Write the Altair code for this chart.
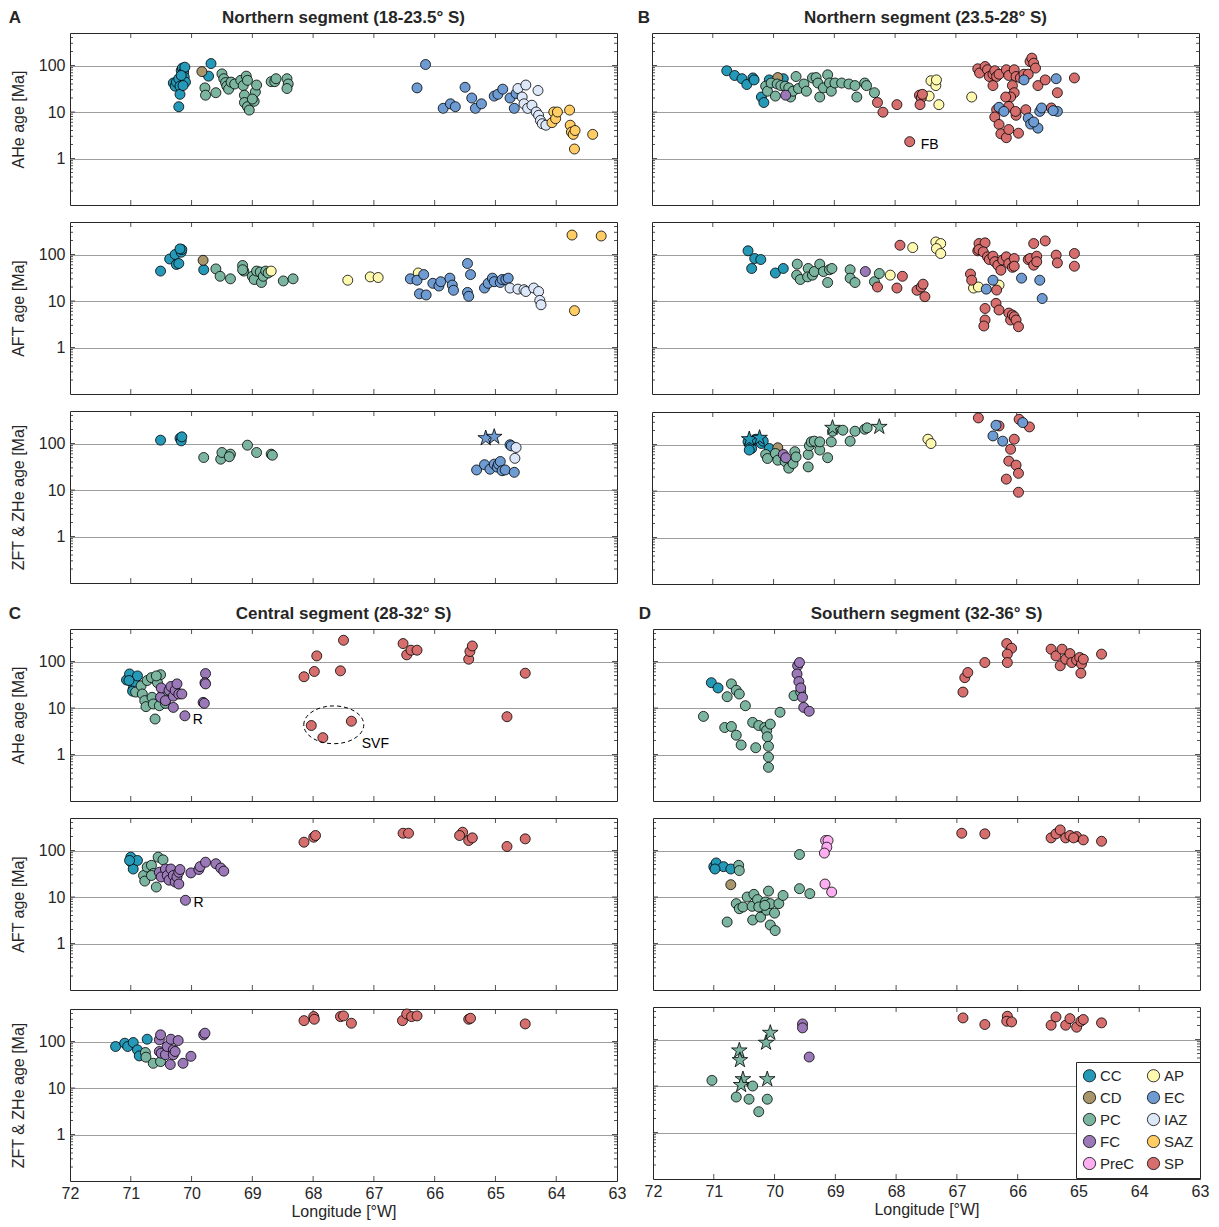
import altair as alt
import pandas as pd

FONT = "Liberation Sans"
INK = "#262626"

# ---- unit colours (legend fills column by column) ----
UNITS = ["CC", "CD", "PC", "FC", "PreC", "AP", "EC", "IAZ", "SAZ", "SP"]
UNIT_COLORS = ["#2599b8", "#a8956c", "#7bb5a0", "#9b79b8", "#fdaef0",
               "#fff9b0", "#6e9bd2", "#dce8fa", "#ffcd64", "#d76e6e"]
DRAW_ORDER = ["CC", "CD", "PC", "FC", "PreC", "AP", "SP", "EC", "IAZ", "SAZ"]

# ---- (longitude °W, age Ma) per segment / method / unit ----
# A: Northern segment 18-23.5° S
A_AHE_CC = [(70.30, 42), (70.27, 36), (70.25, 44), (70.21, 52), (70.19, 36), (70.17, 78), (70.15, 88),
            (70.13, 72), (70.11, 92), (70.12, 56), (70.10, 44), (70.17, 61), (70.19, 24), (70.21, 13),
            (70.14, 37), (69.68, 110), (69.72, 59)]
A_AHE_CD = [(69.83, 74)]
A_AHE_PC = [(69.78, 33), (69.77, 23), (69.60, 26), (69.50, 66), (69.47, 52), (69.44, 43), (69.42, 36),
            (69.39, 31), (69.35, 44), (69.29, 40), (69.19, 48), (69.15, 37), (69.13, 23), (69.10, 59),
            (69.08, 48), (69.13, 16), (69.08, 13), (69.05, 11), (68.97, 17), (68.95, 27), (68.93, 38),
            (69.00, 19), (68.69, 45), (68.63, 45), (68.61, 52), (68.43, 52), (68.41, 40), (68.43, 32)]
A_AHE_EC = [(66.29, 33), (66.15, 105), (65.86, 12), (65.74, 15), (65.66, 13), (65.50, 34), (65.39, 20),
            (65.33, 12), (65.23, 15), (65.02, 22), (64.96, 24), (64.88, 31), (64.76, 20), (64.69, 12),
            (64.66, 25)]
A_AHE_IAZ = [(64.63, 32), (64.56, 21), (64.53, 15), (64.50, 38), (64.47, 12), (64.40, 14), (64.33, 10),
             (64.30, 29), (64.29, 8.5), (64.26, 6.6), (64.23, 5.6), (64.17, 5.2)]
A_AHE_SAZ = [(64.07, 5.9), (64.04, 10), (64.01, 7.2), (63.98, 10), (63.78, 11), (63.77, 5.2), (63.75, 3.7),
             (63.72, 3.3), (63.69, 4.0), (63.70, 1.6), (63.40, 3.3)]

A_AFT_CC = [(70.51, 44), (70.36, 80), (70.27, 100), (70.25, 61), (70.21, 64), (70.17, 112), (70.16, 128),
            (70.19, 132), (69.80, 47)]
A_AFT_CD = [(69.81, 75)]
A_AFT_PC = [(69.60, 49), (69.53, 34), (69.36, 30), (69.16, 58), (69.14, 44), (69.16, 47), (69.00, 34),
            (68.97, 29), (68.93, 44), (68.87, 42), (68.85, 25), (68.82, 34), (68.78, 44), (68.74, 40),
            (68.49, 27), (68.33, 30)]
A_AFT_AP = [(68.69, 44), (67.43, 28), (67.06, 33), (66.93, 32), (66.27, 40)]
A_AFT_EC = [(66.40, 30), (66.29, 28), (66.25, 14.3), (66.14, 13.5), (66.18, 37), (66.03, 24), (65.93, 21),
            (65.90, 26), (65.75, 31), (65.71, 22), (65.69, 17), (65.46, 64), (65.41, 37), (65.46, 15.3),
            (65.44, 12.6), (65.18, 19), (65.12, 24), (65.05, 31), (65.02, 26), (64.92, 25), (64.89, 29),
            (64.83, 29), (64.79, 31)]
A_AFT_IAZ = [(64.76, 19), (64.63, 18), (64.53, 17.5), (64.50, 16), (64.37, 19), (64.29, 16), (64.27, 10.3),
             (64.25, 8.3)]
A_AFT_SAZ = [(63.74, 262), (63.26, 250), (63.70, 6.2)]

A_ZFT_CC = [(70.51, 118), (70.19, 130), (70.17, 114), (70.16, 139)]
A_ZFT_PC = [(69.80, 50), (69.52, 46), (69.50, 64), (69.36, 59), (69.38, 52), (69.08, 92), (68.93, 64),
            (68.69, 59), (68.67, 56)]
A_ZFT_EC = [(65.31, 27), (65.18, 35), (65.09, 28), (65.02, 36), (64.97, 31), (64.95, 36), (64.92, 41),
            (64.89, 26), (64.84, 27), (64.69, 24), (64.76, 94), (64.74, 89)]
A_ZFT_EC_STAR = [(65.16, 130), (65.02, 139)]
A_ZFT_IAZ = [(64.66, 82), (64.68, 48)]

# B: Northern segment 23.5-28° S
B_AHE_CC = [(70.77, 77), (70.64, 61), (70.52, 52), (70.44, 39), (70.34, 54), (70.32, 49), (70.20, 21),
            (70.16, 16), (70.07, 49), (69.84, 52)]
B_AHE_CD = [(69.93, 55)]
B_AHE_FC = [(69.80, 23)]
B_AHE_PC = [(70.13, 36), (70.10, 28), (70.04, 42), (69.97, 22), (69.94, 40), (69.88, 37), (69.81, 36),
            (69.75, 33), (69.72, 21), (69.68, 28), (69.63, 58), (69.59, 32), (69.50, 40), (69.46, 28),
            (69.36, 54), (69.30, 55), (69.27, 42), (69.24, 21), (69.18, 33), (69.11, 63), (69.08, 42),
            (69.05, 28), (68.99, 42), (68.88, 42), (68.76, 40), (68.66, 37), (68.63, 21), (68.50, 42),
            (68.47, 37), (68.34, 26)]
B_AHE_AP = [(67.41, 47), (67.33, 37), (67.32, 49), (67.44, 22), (67.28, 14.4), (66.74, 21)]
B_AHE_SP = [(68.29, 16), (68.20, 9.9), (67.97, 14.4), (67.76, 2.3), (67.60, 23), (67.57, 20), (67.55, 24),
            (67.59, 14.4), (66.64, 85), (66.61, 69), (66.52, 95), (66.48, 81), (66.45, 58), (66.39, 65),
            (66.36, 77), (66.33, 58), (66.39, 37), (66.29, 65), (66.17, 81), (66.13, 61), (66.04, 81),
            (66.01, 58), (65.94, 54), (65.88, 65), (65.78, 122), (65.75, 144), (65.72, 112), (65.69, 88),
            (65.81, 65), (65.65, 37), (65.53, 49), (65.33, 26), (65.05, 54), (65.43, 12.2), (66.07, 37),
            (66.04, 26), (66.10, 21), (66.18, 21), (66.13, 13.2), (66.33, 11.2), (66.36, 7.8), (66.29, 5.4),
            (66.26, 3.4), (66.17, 2.8), (66.13, 4.2), (66.01, 8.5), (65.97, 3.5), (66.02, 10.3), (65.85, 11.2)]
B_AHE_EC = [(66.29, 12.6), (66.21, 10.3), (65.88, 49), (65.81, 7.4), (65.77, 5.5), (65.65, 4.5), (65.62, 10.3),
            (65.59, 12.2), (65.35, 52), (65.33, 10.3), (65.40, 10.7), (65.72, 6.1)]

B_AFT_CC = [(70.42, 120), (70.31, 82), (70.21, 78), (70.36, 50), (69.97, 40), (69.84, 50)]
B_AFT_PC = [(69.61, 62), (69.62, 36), (69.56, 29), (69.43, 50), (69.44, 33), (69.36, 36), (69.33, 43),
            (69.24, 62), (69.18, 43), (69.11, 25), (69.08, 47), (69.04, 50), (68.74, 47), (68.74, 31),
            (68.66, 25), (68.34, 26), (68.26, 39)]
B_AFT_FC = [(68.49, 43)]
B_AFT_AP = [(68.08, 36), (67.71, 141), (67.33, 186), (67.25, 172), (67.32, 134), (67.25, 105), (66.71, 19),
            (66.63, 20), (66.29, 22)]
B_AFT_SP = [(68.29, 20), (67.97, 19), (67.88, 34), (67.92, 158), (67.64, 17), (67.57, 20), (67.54, 23),
            (67.51, 12.4), (66.76, 38), (66.74, 28), (66.64, 120), (66.62, 172), (66.52, 178), (66.62, 128),
            (66.55, 114), (66.48, 89), (66.45, 78), (66.39, 92), (66.36, 70), (66.31, 59), (66.26, 46),
            (66.23, 76), (66.17, 89), (66.13, 64), (66.07, 53), (66.04, 82), (66.04, 56), (66.52, 6.9),
            (66.52, 3.9), (66.54, 2.9), (66.34, 8.9), (66.29, 6.4), (66.33, 17.2), (66.13, 5.5), (66.10, 3.9),
            (66.07, 5.0), (66.04, 4.6), (66.01, 3.9), (65.97, 2.8), (65.81, 78), (65.78, 82), (65.72, 172),
            (65.72, 59), (65.67, 92), (65.67, 70), (65.53, 196), (65.35, 97), (65.33, 66), (65.05, 105),
            (65.05, 56)]
B_AFT_EC = [(66.50, 18), (66.39, 28), (65.92, 31), (65.62, 28), (65.58, 11.3)]

B_ZFT_CC = [(70.42, 114), (70.39, 97), (70.36, 82), (70.29, 130), (70.20, 105), (70.17, 118), (70.07, 82),
            (70.40, 76)]
B_ZFT_CC_STAR = [(70.40, 130), (70.23, 139)]
B_ZFT_CD = [(69.93, 85)]
B_ZFT_PC = [(70.13, 61), (70.10, 50), (69.97, 64), (69.93, 46), (69.81, 43), (69.75, 31), (69.68, 39),
            (69.65, 70), (69.63, 54), (69.43, 33), (69.43, 61), (69.41, 94), (69.38, 114), (69.33, 118),
            (69.24, 76), (69.24, 114), (69.11, 52), (69.05, 114), (69.03, 193), (68.86, 203), (68.74, 118),
            (68.66, 193), (68.50, 213), (68.46, 228)]
B_ZFT_PC_STAR = [(69.03, 228), (68.26, 239)]
B_ZFT_FC = [(69.84, 61), (69.80, 52)]
B_ZFT_AP = [(67.46, 130), (67.41, 105)]
B_ZFT_SP = [(66.63, 373), (66.29, 251), (66.04, 130), (66.10, 79), (66.13, 44), (66.01, 36), (65.97, 24),
            (66.17, 18), (65.97, 9.4), (65.96, 348), (65.79, 239)]
B_ZFT_EC = [(66.34, 259), (66.39, 153), (66.23, 118), (65.90, 296)]

# C: Central segment 28-32° S
C_AHE_CC = [(71.07, 40), (71.02, 54), (70.99, 37), (70.96, 26), (70.92, 34), (70.97, 23), (70.89, 49),
            (71.03, 39)]
C_AHE_PC = [(70.92, 22), (70.83, 30), (70.81, 20), (70.77, 14.4), (70.75, 10.7), (70.73, 39), (70.66, 45),
            (70.65, 17), (70.63, 12.2), (70.60, 5.8), (70.56, 35), (70.51, 52), (70.50, 17), (70.53, 11.2),
            (70.47, 20), (70.43, 12.6), (70.58, 49)]
C_AHE_FC = [(70.51, 17), (70.50, 27), (70.43, 14.4), (70.37, 24), (70.34, 29), (70.30, 10.3), (70.30, 18),
            (70.27, 24), (70.24, 33), (70.21, 20), (70.16, 20), (70.11, 6.8), (69.81, 13.2), (69.79, 12.6),
            (69.77, 55), (69.78, 35), (69.77, 33)]
C_AHE_SP = [(68.15, 47), (67.98, 61), (67.94, 132), (67.55, 63), (67.50, 286), (66.52, 243), (66.46, 139),
            (66.39, 175), (66.29, 175), (65.44, 112), (65.42, 164), (65.38, 216), (64.51, 56), (64.81, 6.5),
            (68.03, 4.2), (67.84, 2.3), (67.37, 5.2)]

C_AFT_CC = [(71.00, 72), (70.99, 56), (70.96, 40), (70.89, 61), (71.02, 61)]
C_AFT_PC = [(70.79, 29), (70.77, 22), (70.73, 44), (70.66, 48), (70.63, 32), (70.58, 16.4), (70.55, 72),
            (70.47, 63), (70.66, 29)]
C_AFT_FC = [(70.53, 34), (70.50, 27), (70.43, 40), (70.40, 29), (70.37, 23), (70.34, 40), (70.30, 29),
            (70.27, 21), (70.24, 27), (70.21, 34), (70.21, 19), (70.19, 39), (70.10, 8.5), (70.01, 33),
            (69.88, 39), (69.86, 45), (69.77, 56), (69.60, 52), (69.52, 42), (69.47, 36)]
C_AFT_SP = [(68.15, 151), (67.99, 193), (67.96, 210), (66.52, 235), (66.43, 235), (65.54, 247), (65.59, 210),
            (65.44, 164), (65.38, 187), (64.81, 122), (64.51, 178)]

C_ZFT_CC = [(71.25, 78), (71.10, 92), (71.05, 78), (70.96, 95), (70.89, 66), (70.86, 49), (70.73, 112)]
C_ZFT_PC = [(70.76, 58), (70.75, 46), (70.63, 34), (70.51, 37)]
C_ZFT_FC = [(70.53, 109), (70.51, 139), (70.53, 61), (70.50, 56), (70.43, 52), (70.40, 78), (70.34, 112),
            (70.35, 32), (70.30, 66), (70.30, 52), (70.22, 105), (70.27, 61), (70.14, 34), (70.01, 48),
            (69.80, 139), (69.78, 151)]
C_ZFT_SP = [(68.15, 281), (67.99, 343), (67.98, 301), (67.55, 343), (67.50, 355), (67.37, 247), (66.53, 281),
            (66.46, 391), (66.38, 343), (66.29, 355), (65.44, 301), (65.41, 316), (64.51, 239)]

# D: Southern segment 32-36° S
D_AHE_CC = [(71.04, 35), (70.93, 27)]
D_AHE_PC = [(71.17, 6.6), (70.78, 17.5), (70.71, 33), (70.63, 24), (70.58, 20), (70.48, 11.2), (70.82, 3.8),
            (70.71, 4.0), (70.63, 2.6), (70.55, 1.6), (70.36, 4.9), (70.31, 1.4), (70.26, 4.2), (70.16, 3.8),
            (70.13, 3.3), (70.12, 2.4), (70.10, 1.5), (70.10, 0.88), (70.10, 0.53), (70.07, 4.5), (69.91, 8.1),
            (69.68, 18.4), (69.57, 22)]
D_AHE_FC = [(69.62, 81), (69.63, 54), (69.60, 37), (69.57, 27), (69.54, 17), (69.52, 10.3), (69.43, 8.5),
            (69.59, 95)]
D_AHE_SP = [(66.90, 22), (66.87, 45), (66.82, 58), (66.54, 95), (66.18, 243), (66.10, 193), (66.17, 144),
            (66.17, 95), (65.45, 184), (65.37, 132), (65.27, 184), (65.30, 81), (65.21, 112), (65.14, 148),
            (65.11, 95), (65.03, 107), (64.98, 122), (64.95, 88), (64.96, 56), (64.92, 112), (64.62, 144)]

D_AFT_CC = [(71.00, 45), (70.96, 54), (70.84, 45), (70.72, 40), (70.98, 40)]
D_AFT_CD = [(70.72, 18.4)]
D_AFT_PC = [(70.59, 48), (70.58, 37), (70.78, 2.9), (70.63, 7.2), (70.58, 5.6), (70.52, 6.1), (70.45, 10),
            (70.37, 6.3), (70.34, 11.4), (70.36, 3.2), (70.28, 8.8), (70.23, 3.7), (70.20, 6.1), (70.15, 7.8),
            (70.13, 5.2), (70.10, 13.4), (70.07, 7.2), (70.07, 2.5), (70.00, 4.5), (69.99, 1.9), (69.93, 7.2),
            (69.86, 10.8), (69.59, 82), (69.59, 15.1), (69.42, 11.8), (70.26, 6.1), (70.16, 6.6)]
D_AFT_PREC = [(69.16, 164), (69.12, 164), (69.14, 118), (69.18, 88), (69.17, 19), (69.06, 12.8)]
D_AFT_SP = [(66.92, 235), (66.54, 228), (65.45, 187), (65.37, 228), (65.30, 277), (65.21, 187), (65.14, 210),
            (65.03, 199), (64.92, 169), (64.62, 158), (65.08, 187)]

D_ZFT_PC = [(71.03, 13.2), (70.63, 5.8), (70.42, 5.2), (70.36, 10), (70.26, 2.8), (70.12, 5.2)]
D_ZFT_PC_STAR = [(70.58, 58), (70.57, 36), (70.52, 14), (70.55, 10.5), (70.12, 14), (70.14, 85), (70.07, 139)]
D_ZFT_FC = [(69.54, 216), (69.54, 178), (69.43, 42)]
D_ZFT_SP = [(66.90, 291), (66.54, 210), (66.17, 316), (66.18, 247), (66.10, 239), (65.45, 203), (65.37, 306),
            (65.21, 203), (65.14, 281), (65.03, 184), (64.96, 247), (64.92, 269), (64.62, 228)]

SERIES = [
    ("A", "AHe", "CC", "circle", A_AHE_CC), ("A", "AHe", "CD", "circle", A_AHE_CD),
    ("A", "AHe", "PC", "circle", A_AHE_PC), ("A", "AHe", "EC", "circle", A_AHE_EC),
    ("A", "AHe", "IAZ", "circle", A_AHE_IAZ), ("A", "AHe", "SAZ", "circle", A_AHE_SAZ),
    ("A", "AFT", "CC", "circle", A_AFT_CC), ("A", "AFT", "CD", "circle", A_AFT_CD),
    ("A", "AFT", "PC", "circle", A_AFT_PC), ("A", "AFT", "AP", "circle", A_AFT_AP),
    ("A", "AFT", "EC", "circle", A_AFT_EC), ("A", "AFT", "IAZ", "circle", A_AFT_IAZ),
    ("A", "AFT", "SAZ", "circle", A_AFT_SAZ),
    ("A", "ZFT", "CC", "circle", A_ZFT_CC), ("A", "ZFT", "PC", "circle", A_ZFT_PC),
    ("A", "ZFT", "EC", "circle", A_ZFT_EC), ("A", "ZFT", "EC", "star", A_ZFT_EC_STAR),
    ("A", "ZFT", "IAZ", "circle", A_ZFT_IAZ),
    ("B", "AHe", "CC", "circle", B_AHE_CC), ("B", "AHe", "CD", "circle", B_AHE_CD),
    ("B", "AHe", "PC", "circle", B_AHE_PC), ("B", "AHe", "FC", "circle", B_AHE_FC),
    ("B", "AHe", "AP", "circle", B_AHE_AP), ("B", "AHe", "SP", "circle", B_AHE_SP),
    ("B", "AHe", "EC", "circle", B_AHE_EC),
    ("B", "AFT", "CC", "circle", B_AFT_CC), ("B", "AFT", "PC", "circle", B_AFT_PC),
    ("B", "AFT", "FC", "circle", B_AFT_FC), ("B", "AFT", "AP", "circle", B_AFT_AP),
    ("B", "AFT", "SP", "circle", B_AFT_SP), ("B", "AFT", "EC", "circle", B_AFT_EC),
    ("B", "ZFT", "CC", "circle", B_ZFT_CC), ("B", "ZFT", "CC", "star", B_ZFT_CC_STAR),
    ("B", "ZFT", "CD", "circle", B_ZFT_CD), ("B", "ZFT", "PC", "circle", B_ZFT_PC),
    ("B", "ZFT", "PC", "star", B_ZFT_PC_STAR), ("B", "ZFT", "FC", "circle", B_ZFT_FC),
    ("B", "ZFT", "AP", "circle", B_ZFT_AP), ("B", "ZFT", "SP", "circle", B_ZFT_SP),
    ("B", "ZFT", "EC", "circle", B_ZFT_EC),
    ("C", "AHe", "CC", "circle", C_AHE_CC), ("C", "AHe", "PC", "circle", C_AHE_PC),
    ("C", "AHe", "FC", "circle", C_AHE_FC), ("C", "AHe", "SP", "circle", C_AHE_SP),
    ("C", "AFT", "CC", "circle", C_AFT_CC), ("C", "AFT", "PC", "circle", C_AFT_PC),
    ("C", "AFT", "FC", "circle", C_AFT_FC), ("C", "AFT", "SP", "circle", C_AFT_SP),
    ("C", "ZFT", "CC", "circle", C_ZFT_CC), ("C", "ZFT", "PC", "circle", C_ZFT_PC),
    ("C", "ZFT", "FC", "circle", C_ZFT_FC), ("C", "ZFT", "SP", "circle", C_ZFT_SP),
    ("D", "AHe", "CC", "circle", D_AHE_CC), ("D", "AHe", "PC", "circle", D_AHE_PC),
    ("D", "AHe", "FC", "circle", D_AHE_FC), ("D", "AHe", "SP", "circle", D_AHE_SP),
    ("D", "AFT", "CC", "circle", D_AFT_CC), ("D", "AFT", "CD", "circle", D_AFT_CD),
    ("D", "AFT", "PC", "circle", D_AFT_PC), ("D", "AFT", "PreC", "circle", D_AFT_PREC),
    ("D", "AFT", "SP", "circle", D_AFT_SP),
    ("D", "ZFT", "PC", "circle", D_ZFT_PC), ("D", "ZFT", "PC", "star", D_ZFT_PC_STAR),
    ("D", "ZFT", "FC", "circle", D_ZFT_FC), ("D", "ZFT", "SP", "circle", D_ZFT_SP),
]

TITLES = {
    "A": "Northern segment (18-23.5° S)",
    "B": "Northern segment (23.5-28° S)",
    "C": "Central segment (28-32° S)",
    "D": "Southern segment (32-36° S)",
}
Y_TITLES = {"AHe": "AHe age [Ma]", "AFT": "AFT age [Ma]", "ZFT": "ZFT & ZHe age [Ma]"}

# point annotations: (segment, method, lon, age, text)
LABELS = [
    ("B", "AHe", 67.58, 1.95, "FB"),
    ("C", "AHe", 69.98, 5.6, "R"),
    ("C", "AHe", 67.20, 1.65, "SVF"),
    ("C", "AFT", 69.97, 7.5, "R"),
]
# dashed outline round the SVF samples: (segment, method, lon, age)
ELLIPSES = [("C", "AHe", 67.66, 4.35)]

GRID_AGES = [1, 10, 100]
MINOR_AGES = [0.2, 0.3, 0.4, 0.5, 0.6, 0.7, 0.8, 0.9, 2, 3, 4, 5, 6, 7, 8, 9,
              20, 30, 40, 50, 60, 70, 80, 90, 200, 300, 400]
LON_TICKS = list(range(63, 73))

rows = []
for seg, meth, unit, marker, pts in SERIES:
    for lon, age in pts:
        rows.append({"seg": seg, "method": meth, "unit": unit, "marker": marker,
                     "lon": lon, "age": age, "order": DRAW_ORDER.index(unit)})
DF = pd.DataFrame(rows)

W, H = 547, 172
XS = alt.Scale(domain=[63, 72], reverse=True, nice=False)
YS = alt.Scale(type="log", domain=[0.1, 500], nice=False)
CS = alt.Scale(domain=UNITS, range=UNIT_COLORS)
STAR = ("M0,-1L0.2245,-0.309L0.9511,-0.309L0.3633,0.118L0.5878,0.809L0,0.382"
        "L-0.5878,0.809L-0.3633,0.118L-0.9511,-0.309L-0.2245,-0.309Z")
ELLIPSE = "M-1,0A1,0.63,0,1,1,1,0A1,0.63,0,1,1,-1,0Z"

LEGEND = alt.Legend(
    title=None, orient="none", legendX=1006, legendY=1029, columns=2,
    symbolType="circle", symbolSize=150, symbolStrokeColor="black", symbolStrokeWidth=0.8,
    symbolOpacity=1, labelFont=FONT, labelFontSize=15, labelColor=INK, labelOffset=3,
    columnPadding=10, rowPadding=5, padding=6, strokeColor=INK, fillColor="white",
)


def panel(seg, meth, left, bottom, top):
    sub = DF[(DF.seg == seg) & (DF.method == meth)].sort_values("order", kind="stable")
    if bottom:
        xax = alt.Axis(values=LON_TICKS, format="d", grid=False, ticks=False, domain=False,
                       labelFlush=False, labelPadding=4, title="Longitude [°W]", titlePadding=2,
                       titleFontWeight="normal")
    else:
        xax = None
    if left:
        yax = alt.Axis(values=GRID_AGES, format="d", grid=True, ticks=False, domain=False,
                       labelPadding=5, title=Y_TITLES[meth], titlePadding=12,
                       titleFontWeight="normal")
    else:
        yax = alt.Axis(values=GRID_AGES, grid=True, ticks=False, domain=False,
                       labels=False, title=None)
    ex = alt.X("lon:Q", scale=XS, axis=xax)
    ey = alt.Y("age:Q", scale=YS, axis=yax)
    color = alt.Color("unit:N", scale=CS, legend=LEGEND)

    layers = []
    # inward frame ticks on all four sides
    xt = alt.Chart(pd.DataFrame({"lon": LON_TICKS[1:-1]}))
    layers.append(xt.mark_rule(color=INK, strokeWidth=0.8).encode(x=ex, y=alt.value(H), y2=alt.value(H - 5)))
    layers.append(xt.mark_rule(color=INK, strokeWidth=0.8).encode(x=ex, y=alt.value(0), y2=alt.value(5)))
    for vals, ln in ((GRID_AGES, 5), (MINOR_AGES, 3)):
        yt = alt.Chart(pd.DataFrame({"age": vals}))
        layers.append(yt.mark_rule(color=INK, strokeWidth=0.8).encode(y=ey, x=alt.value(0), x2=alt.value(ln)))
        layers.append(yt.mark_rule(color=INK, strokeWidth=0.8).encode(y=ey, x=alt.value(W), x2=alt.value(W - ln)))

    circ = sub[sub.marker == "circle"]
    layers.append(alt.Chart(circ).mark_circle(size=100, stroke="black", strokeWidth=0.8, opacity=1)
                  .encode(x=ex, y=ey, color=color))
    stars = sub[sub.marker == "star"]
    if len(stars):
        layers.append(alt.Chart(stars).mark_point(shape=STAR, filled=True, size=270, stroke="black",
                                                  strokeWidth=0.8, opacity=1)
                      .encode(x=ex, y=ey, color=color))

    ell = [e for e in ELLIPSES if e[0] == seg and e[1] == meth]
    if ell:
        edf = pd.DataFrame({"lon": [e[2] for e in ell], "age": [e[3] for e in ell]})
        layers.append(alt.Chart(edf).mark_point(shape=ELLIPSE, size=3600, filled=False, color="black",
                                                strokeWidth=1, strokeDash=[4, 3], opacity=1)
                      .encode(x=ex, y=ey))
    lab = [l for l in LABELS if l[0] == seg and l[1] == meth]
    if lab:
        ldf = pd.DataFrame({"lon": [l[2] for l in lab], "age": [l[3] for l in lab], "t": [l[4] for l in lab]})
        layers.append(alt.Chart(ldf).mark_text(align="left", baseline="middle", font=FONT, fontSize=14,
                                               color="black")
                      .encode(x=ex, y=ey, text="t:N"))
    if top:
        # panel letter and segment heading above the first panel of each column
        head = pd.DataFrame({"t": [seg, TITLES[seg]], "px": [-55 if left else -8, W / 2]})
        layers.append(alt.Chart(head)
                      .mark_text(align="center", baseline="middle", font=FONT, fontSize=17,
                                 fontWeight="bold", color=INK)
                      .encode(text="t:N", x=alt.X("px:Q", scale=None), y=alt.value(-15)))

    return alt.layer(*layers).properties(width=W, height=H)


def column(seg, left, bottom_row):
    return alt.vconcat(
        panel(seg, "AHe", left, False, True),
        panel(seg, "AFT", left, False, False),
        panel(seg, "ZFT", left, bottom_row, False),
        spacing=15,
    )


top_row = alt.hconcat(column("A", True, False), column("B", False, False), spacing=19)
bottom_row = alt.hconcat(column("C", True, True), column("D", False, True), spacing=11)

chart = (
    alt.vconcat(top_row, bottom_row, spacing=19)
    .properties(padding={"left": 8, "top": 8, "right": 0, "bottom": 0})
    .configure_view(stroke=INK, strokeWidth=1)
    .configure_axis(labelFont=FONT, titleFont=FONT, labelFontSize=16, titleFontSize=16,
                    labelColor=INK, titleColor=INK, gridColor="#9e9e9e", gridWidth=1.2)
    .configure_title(font=FONT)
)

chart.save("out.html", embed_options={"renderer": "svg", "actions": False})
